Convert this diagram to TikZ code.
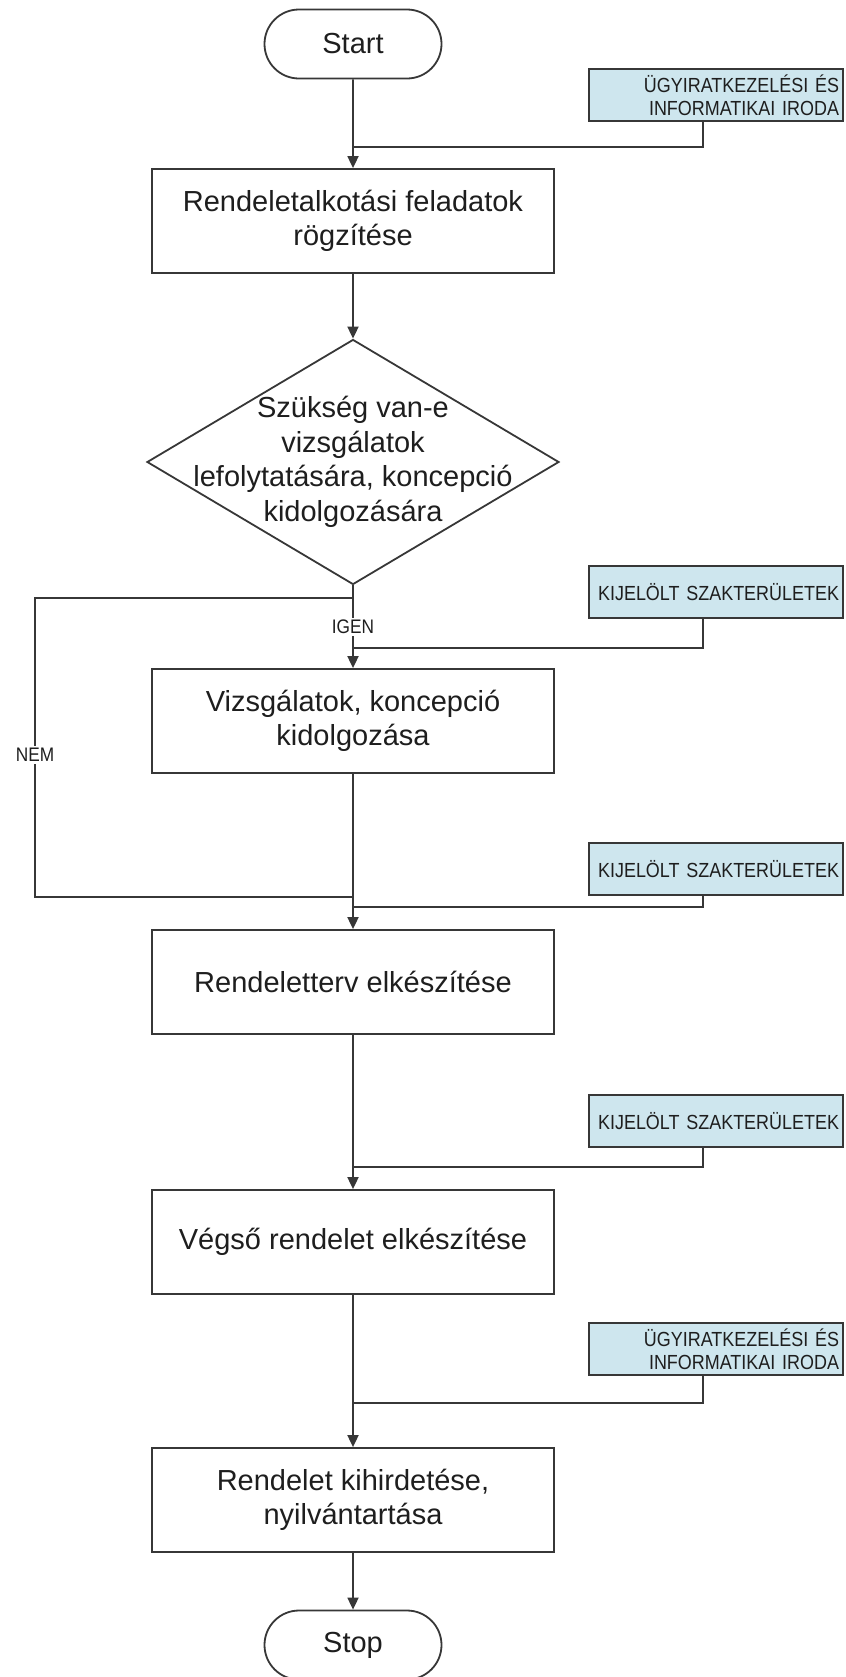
\documentclass[tikz,border=0pt]{standalone}
\usepackage{fontspec}
\setmainfont{Liberation Sans}
\newfontfamily\condfont{Liberation Sans}[FakeStretch=0.88]
\usetikzlibrary{shapes.geometric,shapes.misc,arrows.meta}
\definecolor{boxblue}{RGB}{206,230,238}
\definecolor{linegray}{RGB}{55,55,55}
\definecolor{textgray}{RGB}{30,30,30}
\begin{document}
\begin{tikzpicture}[x=0.5pt,y=-0.5pt,
  line/.style={draw=linegray, line width=0.9pt},
  arr/.style={line, -{Triangle[length=6pt,width=5.5pt]}},
  term/.style={rounded rectangle, draw=linegray, line width=0.9pt, minimum width=88.5pt, minimum height=34.5pt, inner sep=0pt, font=\fontsize{14.5}{17}\selectfont, text=textgray},
  proc/.style={rectangle, draw=linegray, line width=0.9pt, minimum width=201pt, minimum height=52pt, inner sep=0pt, align=center, font=\fontsize{14.5}{17}\selectfont, text=textgray},
  unit/.style={rectangle, draw=linegray, line width=1pt, fill=boxblue, minimum width=127pt, minimum height=26pt, text width=123pt, inner xsep=2pt, inner ysep=0pt, align=right, font=\condfont\fontsize{10.2}{11.5}\selectfont, text=textgray},
  lbl/.style={fill=white, inner sep=1pt, font=\condfont\fontsize{9.8}{11}\selectfont, text=textgray}]

\useasboundingbox (0,0) rectangle (846,1677);

% main flow nodes
\node[term] (start) at (353,44) {Start};
\node[proc] (r1) at (353,221) {Rendeletalkotási feladatok\\rögzítése};
\node[diamond, draw=linegray, line width=0.9pt, minimum width=206pt, minimum height=122.5pt, inner sep=0pt] (d) at (353,462) {};
\node[align=center, font=\fontsize{14.5}{17.3}\selectfont, text=textgray] (dt) at (353,462) {Szükség van-e\\vizsgálatok\\lefolytatására, koncepció\\kidolgozására};
\node[proc] (r2) at (353,721) {Vizsgálatok, koncepció\\kidolgozása};
\node[proc] (r3) at (353,982) {Rendeletterv elkészítése};
\node[proc] (r4) at (353,1242) {Végső rendelet elkészítése};
\node[proc] (r5) at (353,1500) {Rendelet kihirdetése,\\nyilvántartása};
\node[term] (stop) at (353,1645) {Stop};

% responsible units
\node[unit] (b1) at (716,95) {ÜGYIRATKEZELÉSI ÉS\\INFORMATIKAI IRODA};
\node[unit] (b2) at (716,592) {KIJELÖLT SZAKTERÜLETEK};
\node[unit] (b3) at (716,869) {KIJELÖLT SZAKTERÜLETEK};
\node[unit] (b4) at (716,1121) {KIJELÖLT SZAKTERÜLETEK};
\node[unit] (b5) at (716,1349) {ÜGYIRATKEZELÉSI ÉS\\INFORMATIKAI IRODA};

% junction points
\coordinate (j1) at (353,147);
\coordinate (j2) at (353,648);
\coordinate (j3) at (353,907);
\coordinate (j4) at (353,1167);
\coordinate (j5) at (353,1403);
\coordinate (n1) at (353,598);
\coordinate (n2) at (35,598);
\coordinate (n3) at (35,897);
\coordinate (n4) at (353,897);

% connectors
\draw[arr] (start) -- (r1);
\draw[line] (b1.south -| 703,0) |- (j1);
\draw[arr] (r1) -- (d);
\draw[arr] (d.south) -- (r2);
\draw[line] (b2.south -| 703,0) |- (j2);
\draw[line] (n1) -- (n2) -- (n3) -- (n4);
\draw[arr] (r2) -- (r3);
\draw[line] (b3.south -| 703,0) |- (j3);
\draw[arr] (r3) -- (r4);
\draw[line] (b4.south -| 703,0) |- (j4);
\draw[arr] (r4) -- (r5);
\draw[line] (b5.south -| 703,0) |- (j5);
\draw[arr] (r5) -- (stop);

% labels
\node[lbl] (igen) at (353,627) {IGEN};
\node[lbl] (nem) at (35,755) {NEM};
\end{tikzpicture}
\end{document}
